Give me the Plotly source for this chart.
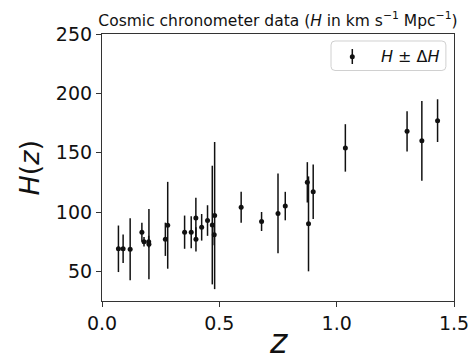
import plotly.graph_objects as go

# Cosmic chronometer data
z = [0.07, 0.09, 0.12, 0.17, 0.179, 0.199, 0.2, 0.27, 0.28, 0.352, 0.3802, 0.4, 0.4004,
     0.4247, 0.4497, 0.47, 0.4783, 0.48, 0.593, 0.68, 0.75, 0.781, 0.875, 0.88, 0.9,
     1.037, 1.3, 1.363, 1.43, 1.53, 1.75, 1.965]
H = [69, 69, 68.6, 83, 75, 75, 72.9, 77, 88.8, 83, 83, 95, 77,
     87.1, 92.8, 89, 80.9, 97, 104, 92, 98.8, 105, 125, 90, 117,
     154, 168, 160, 177, 140, 202, 186.5]
dH = [19.6, 12, 26.2, 8, 4, 5, 29.6, 14, 36.6, 14, 13.5, 17, 10.2,
      11.2, 12.9, 50, 9, 62, 13, 8, 33.6, 12, 17, 40, 23,
      20, 17, 33.6, 18, 14, 40, 50.4]

x_ticks = [0.0, 0.5, 1.0, 1.5]
x_ticklabels = ["0.0", "0.5", "1.0", "1.5"]
y_ticks = [50, 100, 150, 200, 250]

FONT = "DejaVu Sans"
PW, PH = 352, 267  # plot area size in px

fig = go.Figure()
fig.add_trace(go.Scatter(
    x=z, y=H, mode="markers",
    marker=dict(color="#111111", size=5),
    error_y=dict(type="data", array=dH, visible=True, thickness=1.5, width=0, color="#111111"),
    showlegend=False,
))

# Manual legend (rounded box, errorbar glyph, text)
L, R, B, T = 0.6506, 0.977, 0.8633, 0.9738
rx, ry = 4 / PW, 4 / PH
path = (f"M {L+rx},{B} L {R-rx},{B} Q {R},{B} {R},{B+ry} L {R},{T-ry} Q {R},{T} {R-rx},{T} "
        f"L {L+rx},{T} Q {L},{T} {L},{T-ry} L {L},{B+ry} Q {L},{B} {L+rx},{B} Z")
fig.add_shape(type="path", xref="paper", yref="paper", path=path,
              line=dict(color="#d0d0d0", width=1), fillcolor="rgba(255,255,255,0.8)")
lx = (352.3 - 102) / PW
ly = (301 - 56.7) / PH
fig.add_shape(type="line", xref="paper", yref="paper", x0=lx, x1=lx, y0=0.8876, y1=0.9438,
              line=dict(color="#111111", width=1.5))
fig.add_shape(type="circle", xref="paper", yref="paper",
              x0=lx - 2.5 / PW, x1=lx + 2.5 / PW, y0=ly - 2.5 / PH, y1=ly + 2.5 / PH,
              line=dict(color="#111111", width=0), fillcolor="#111111")
fig.add_annotation(xref="paper", yref="paper", x=(379 - 102) / PW, y=ly,
                   xanchor="left", yanchor="middle", showarrow=False,
                   text="<i>H</i> ± Δ<i>H</i>", font=dict(family=FONT, size=16, color="#111111"))

# Axis titles as annotations for exact placement
fig.add_annotation(xref="paper", yref="paper", x=0.5, y=-(341.5 - 301) / PH,
                   xanchor="center", yanchor="middle", showarrow=False,
                   text="<i>z</i>", font=dict(family=FONT, size=33, color="#111111"))
fig.add_annotation(xref="paper", yref="paper", x=(29 - 102) / PW, y=0.5,
                   xanchor="center", yanchor="middle", showarrow=False, textangle=-90,
                   text="<i>H</i>(<i>z</i>)", font=dict(family=FONT, size=27, color="#111111"))

axis_common = dict(
    showline=True, linecolor="#333333", linewidth=1.2, mirror=True,
    ticks="outside", ticklen=5, tickwidth=1.2, tickcolor="#333333",
    showgrid=False, zeroline=False, automargin=False,
    tickfont=dict(family=FONT, size=19, color="#111111"),
)

fig.update_layout(
    width=472, height=354,
    margin=dict(l=102, r=18, t=34, b=53, autoexpand=False),
    paper_bgcolor="white", plot_bgcolor="white",
    title=dict(text="Cosmic chronometer data (<i>H</i> in km s<sup>−1</sup> Mpc<sup>−1</sup>)",
               x=0.5, xref="paper", xanchor="center",
               y=1 - 20.5 / 354, yref="container", yanchor="middle",
               font=dict(family=FONT, size=15.5, color="#111111")),
    xaxis=dict(range=[0, 1.5], tickvals=x_ticks, ticktext=x_ticklabels, **axis_common),
    yaxis=dict(range=[25, 250], tickvals=y_ticks, **axis_common),
)

fig.write_html("out.html", config={"displayModeBar": False},
               post_script="document.body.style.margin='0';document.body.style.overflow='hidden';")
